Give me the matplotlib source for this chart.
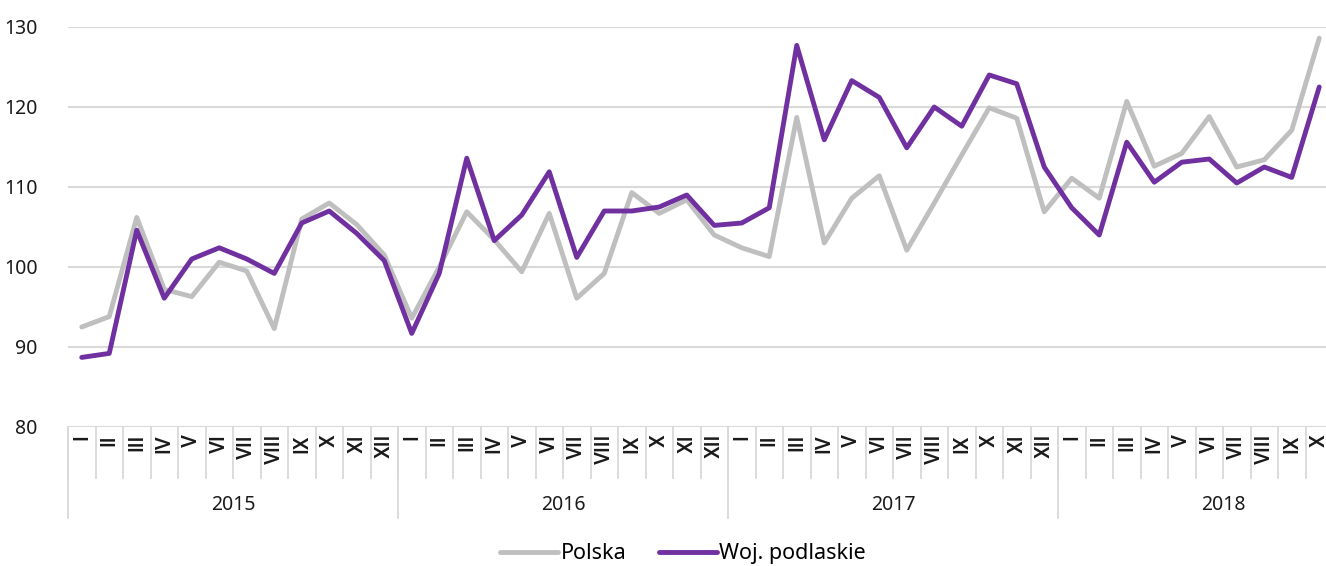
import matplotlib.pyplot as plt

# month labels and years
months = ['I', 'II', 'III', 'IV', 'V', 'VI', 'VII', 'VIII', 'IX', 'X', 'XI', 'XII']
years = ['2015', '2016', '2017', '2018']
months_per_year = [12, 12, 12, 10]

polska = [92.5, 93.8, 106.2, 97.2, 96.3, 100.6, 99.5, 92.3, 106.0, 108.0, 105.3, 101.5,
          93.6, 100.0, 106.9, 103.4, 99.4, 106.7, 96.1, 99.2, 109.3, 106.7, 108.4, 104.0,
          102.4, 101.3, 118.7, 103.0, 108.6, 111.4, 102.1, 108.0, 114.0, 119.9, 118.6, 106.9,
          111.1, 108.6, 120.7, 112.6, 114.2, 118.8, 112.5, 113.4, 117.1, 128.6]
podlaskie = [88.7, 89.2, 104.6, 96.1, 101.0, 102.4, 101.0, 99.2, 105.5, 107.0, 104.2, 100.8,
             91.7, 99.2, 113.6, 103.3, 106.5, 111.9, 101.2, 107.0, 107.0, 107.5, 109.0, 105.2,
             105.5, 107.4, 127.7, 115.9, 123.3, 121.2, 114.9, 120.0, 117.6, 124.0, 122.9, 112.5,
             107.4, 104.0, 115.6, 110.6, 113.1, 113.5, 110.5, 112.5, 111.2, 122.5]

plt.rcParams['font.family'] = ['Noto Sans', 'DejaVu Sans']

W, H = 1326, 566
fig = plt.figure(figsize=(W / 100, H / 100), dpi=100)
ax = fig.add_axes([68 / W, 139 / H, 1265 / W, 400 / H])

labels = []
for n in months_per_year:
    labels += months[:n]
x = list(range(len(labels)))

grey = '#BFBFBF'
purple = '#7030A0'
ax.plot(x, polska, color=grey, lw=3.5, label='Polska', solid_joinstyle='round', solid_capstyle='round')
ax.plot(x, podlaskie, color=purple, lw=3.5, label='Woj. podlaskie', solid_joinstyle='round', solid_capstyle='round')

ax.set_ylim(80, 130)
ax.set_xlim(-0.5, len(labels) - 0.5)
ax.set_yticks(range(80, 131, 10))
ax.grid(axis='y', color='#D9D9D9', lw=1.5)
ax.set_axisbelow(True)
ax.set_xticks([])
ax.tick_params(axis='y', length=0, pad=22, labelsize=14, labelcolor='#1a1a1a')
for s in ax.spines.values():
    s.set_visible(False)

trans = ax.get_xaxis_transform()
sep_col = '#D9D9D9'
# month separators and labels
for i, lab in enumerate(labels):
    ax.plot([i - 0.5, i - 0.5], [0, -0.1275], transform=trans, color=sep_col, lw=1.3, clip_on=False)
    ax.text(i, -0.018, lab, transform=trans, rotation=90, ha='center', va='top', fontsize=14.5,
            family='Roboto', fontweight='medium', color='#1a1a1a')

# year separators and labels
start = 0
for yr, n in zip(years, months_per_year):
    ax.plot([start - 0.5, start - 0.5], [0, -0.2275], transform=trans, color=sep_col, lw=1.3, clip_on=False)
    ax.text(start - 0.5 + 6, -0.195, yr, transform=trans, ha='center', va='center', fontsize=14, color='#1a1a1a')
    start += n

fig.legend(loc='center', bbox_to_anchor=(0.515, 0.022), ncol=2, frameon=False, fontsize=15.5,
           handlelength=2.7, handletextpad=0.1, columnspacing=1.5)

fig.savefig('out.png', dpi=100)
